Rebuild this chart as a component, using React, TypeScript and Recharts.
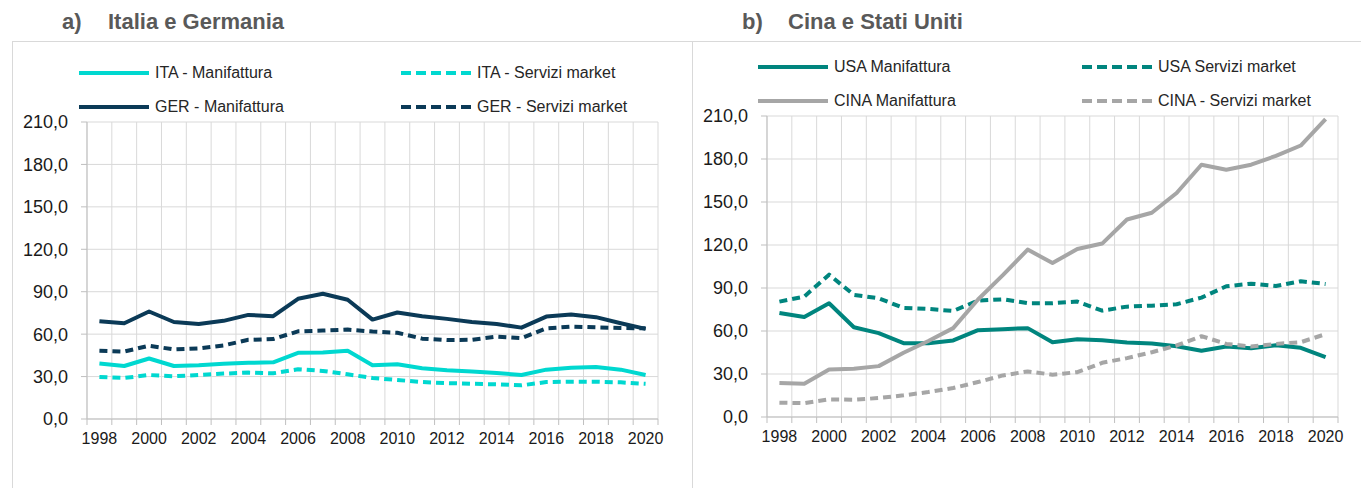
import React from 'react';
import {LineChart, Line, XAxis, YAxis, CartesianGrid} from 'recharts';

const years = [1998, 1999, 2000, 2001, 2002, 2003, 2004, 2005, 2006, 2007, 2008, 2009, 2010, 2011, 2012, 2013, 2014, 2015, 2016, 2017, 2018, 2019, 2020];
const yearLabels = [1998, 2000, 2002, 2004, 2006, 2008, 2010, 2012, 2014, 2016, 2018, 2020];
const yTicks = [0, 30, 60, 90, 120, 150, 180, 210];

// a) Italia e Germania
const itaManifattura = [39.2, 37.5, 42.8, 37.5, 38.0, 39.0, 39.7, 40.1, 46.8, 47.0, 48.2, 38.0, 38.7, 35.9, 34.4, 33.5, 32.5, 31.1, 34.9, 36.3, 36.8, 34.9, 31.1];
const itaServizi = [29.7, 29.0, 31.1, 30.2, 31.1, 32.1, 32.8, 32.3, 35.2, 34.0, 31.6, 29.0, 27.6, 26.1, 25.4, 24.9, 24.5, 23.8, 26.1, 26.4, 26.4, 25.9, 24.9];
const gerManifattura = [69.1, 67.7, 76.0, 68.6, 67.2, 69.4, 73.6, 72.7, 85.0, 88.6, 84.3, 70.3, 75.3, 72.7, 70.8, 68.6, 67.2, 64.6, 72.4, 73.9, 72.0, 67.7, 63.7];
const gerServizi = [48.2, 47.7, 51.8, 49.2, 49.9, 52.0, 56.0, 56.5, 62.0, 62.5, 63.2, 61.8, 61.0, 56.8, 55.8, 56.0, 58.2, 57.2, 64.1, 65.3, 64.8, 64.4, 64.1];

// b) Cina e Stati Uniti
const usaManifattura = [72.6, 69.8, 79.4, 62.6, 58.5, 51.5, 51.5, 53.4, 60.6, 61.3, 62.0, 52.2, 54.3, 53.6, 52.0, 51.3, 49.4, 46.2, 49.2, 48.0, 50.1, 48.3, 41.8];
const usaServizi = [80.5, 84.0, 99.3, 85.2, 82.8, 76.1, 75.4, 74.0, 81.2, 82.1, 79.4, 79.4, 80.5, 74.2, 77.0, 77.7, 78.7, 83.3, 91.2, 93.0, 91.4, 94.7, 92.8];
const cinaManifattura = [23.7, 23.2, 33.2, 33.6, 35.5, 44.8, 53.0, 62.0, 82.0, 99.0, 116.8, 107.4, 117.2, 121.0, 137.8, 142.5, 156.3, 176.0, 172.5, 176.0, 182.2, 189.4, 207.9];
const cinaServizi = [10.0, 9.7, 12.3, 12.1, 13.2, 15.1, 17.4, 20.2, 24.4, 29.0, 31.8, 29.5, 31.3, 37.8, 41.1, 45.2, 49.9, 56.4, 51.0, 49.2, 51.0, 52.2, 57.8];

const FONT = "'Liberation Sans Narrow', 'Arial Narrow', 'Liberation Sans', Arial, sans-serif";
const GRID = '#D9D9D9';
const AXIS = '#BFBFBF';
const DASH = '8 5';

type Serie = {key: string; name: string; color: string; values: number[]; dashed?: boolean};

const leftSeries: Serie[] = [
    {key: 'gerS', name: 'GER - Servizi market', color: '#0B3A57', values: gerServizi, dashed: true},
    {key: 'gerM', name: 'GER - Manifattura', color: '#0B3A57', values: gerManifattura},
    {key: 'itaS', name: 'ITA - Servizi market', color: '#00D8D0', values: itaServizi, dashed: true},
    {key: 'itaM', name: 'ITA - Manifattura', color: '#00D8D0', values: itaManifattura},
];

const rightSeries: Serie[] = [
    {key: 'usaM', name: 'USA Manifattura', color: '#00857E', values: usaManifattura},
    {key: 'usaS', name: 'USA Servizi market', color: '#00857E', values: usaServizi, dashed: true},
    {key: 'cinaS', name: 'CINA - Servizi market', color: '#A6A6A6', values: cinaServizi, dashed: true},
    {key: 'cinaM', name: 'CINA Manifattura', color: '#A6A6A6', values: cinaManifattura},
];

// asse x su passi di mezza categoria: centri dispari, confini pari (valori interi)
const pos = (year: number) => (year - years[0]) * 2 + 1;
const yearOf = (p: number) => years[0] + (p - 1) / 2;
const boundaries = [...years.map(y => pos(y) - 1), pos(years[years.length - 1]) + 1];
const xTicks = [...boundaries, ...yearLabels.map(pos)].sort((a, b) => a - b);
const xDomain = [boundaries[0], boundaries[boundaries.length - 1]];

const fmt = (v: number) => v.toFixed(1).replace('.', ',');

function buildData(series: Serie[]) {
    return years.map((year, i) => {
        const row: Record<string, number> = {x: pos(year)};
        series.forEach(s => {
            row[s.key] = s.values[i];
        });
        return row;
    });
}

// tacca sui confini, etichetta dell'anno sui centri
const XTick = ({x, y, payload}: any) => {
    const v = payload.value;
    if (v % 2 === 0) {
        return <line x1={x} y1={y} x2={x} y2={y + 6} stroke={AXIS} strokeWidth={1}/>;
    }
    return (
        <text x={x} y={y + 25} textAnchor="middle" fontFamily={FONT} fontSize={16} fill="#1a1a1a">
            {yearOf(v)}
        </text>
    );
};

function LegendItem({s, x, y}: {s: Serie; x: number; y: number}) {
    return (
        <div style={{position: 'absolute', left: x, top: y - 12, height: 24, display: 'flex', alignItems: 'center', whiteSpace: 'nowrap'}}>
            <svg width={72} height={8} style={{marginRight: 5}}>
                <line x1={1} y1={4} x2={71} y2={4} stroke={s.color} strokeWidth={4}
                      strokeDasharray={s.dashed ? '10 5' : undefined}/>
            </svg>
            <span style={{fontFamily: FONT, fontSize: 16, color: '#262626'}}>{s.name}</span>
        </div>
    );
}

interface PanelProps {
    left: number;
    width: number;
    top: number;
    bottom: number;
    letter: string;
    title: string;
    series: Serie[];
    legend: {s: Serie; x: number; y: number}[];
}

function Panel({left, width, top, bottom, letter, title, series, legend}: PanelProps) {
    const data = buildData(series);
    return (
        <div style={{position: 'absolute', left, top: 0, width, height: 488}}>
            <div style={{position: 'absolute', left: 62, top: 9, fontFamily: FONT, fontWeight: 'bold', fontSize: 22, color: '#595959', whiteSpace: 'nowrap'}}>
                <span style={{display: 'inline-block', width: 46}}>{letter}</span>{title}
            </div>
            {legend.map(l => <LegendItem key={l.s.key} {...l}/>)}
            <div style={{position: 'absolute', left: 0, top: 0}}>
                <LineChart width={width} height={488} data={data}
                           margin={{top, right: width - 658, left: 7, bottom: 488 - bottom - 40}}>
                    <CartesianGrid stroke={GRID} xAxisId="grid"/>
                    <XAxis xAxisId={0} dataKey="x" type="number" domain={xDomain} ticks={xTicks}
                           height={40} stroke={AXIS} tickLine={false} tickSize={0} tickMargin={0}
                           interval={0} tick={<XTick/>} allowDataOverflow/>
                    <XAxis xAxisId="grid" dataKey="x" type="number" domain={xDomain} ticks={boundaries}
                           hide interval={0} allowDataOverflow/>
                    <YAxis domain={[0, 210]} ticks={yTicks} width={80} tickSize={6} tickMargin={13}
                           stroke={AXIS} tickFormatter={fmt} interval={0}
                           tick={{fontFamily: FONT, fontSize: 18, fill: '#1a1a1a'}}/>
                    {series.map(s => (
                        <Line key={s.key} dataKey={s.key} name={s.name} stroke={s.color} strokeWidth={4}
                              strokeDasharray={s.dashed ? DASH : undefined} dot={false}
                              strokeLinejoin="round" isAnimationActive={false}/>
                    ))}
                </LineChart>
            </div>
        </div>
    );
}

export default function App() {
    const [gerS, gerM, itaS, itaM] = leftSeries;
    const [usaM, usaS, cinaS, cinaM] = rightSeries;
    return (
        <div style={{position: 'absolute', left: 0, top: 0, width: 1361, height: 488, background: '#fff', overflow: 'hidden'}}>
            <div style={{position: 'absolute', left: 12, top: 41, width: 1349, height: 0, borderTop: `1px solid ${GRID}`}}/>
            <div style={{position: 'absolute', left: 12, top: 41, width: 0, height: 447, borderLeft: `1px solid ${GRID}`}}/>
            <div style={{position: 'absolute', left: 692, top: 41, width: 0, height: 447, borderLeft: `1px solid ${GRID}`}}/>
            <Panel left={0} width={680} top={122} bottom={419} letter="a)" title="Italia e Germania"
                   series={leftSeries}
                   legend={[
                       {s: itaM, x: 78, y: 73}, {s: itaS, x: 400, y: 73},
                       {s: gerM, x: 78, y: 107}, {s: gerS, x: 400, y: 107},
                   ]}/>
            <Panel left={680} width={681} top={116} bottom={417} letter="b)" title="Cina e Stati Uniti"
                   series={rightSeries}
                   legend={[
                       {s: usaM, x: 77, y: 67}, {s: usaS, x: 401, y: 67},
                       {s: cinaM, x: 77, y: 101}, {s: cinaS, x: 401, y: 101},
                   ]}/>
        </div>
    );
}
